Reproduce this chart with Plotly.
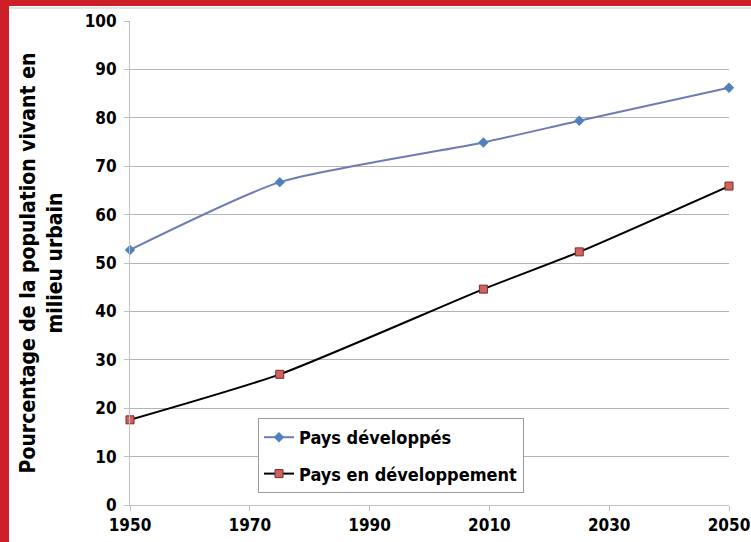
import plotly.graph_objects as go

years_dev = [1950, 1975, 2009, 2025, 2050]
dev = [52.7, 66.7, 74.9, 79.4, 86.2]
years_dvp = [1950, 1975, 2009, 2025, 2050]
dvp = [17.6, 27.0, 44.6, 52.3, 65.9]
x_ticks = [1950, 1970, 1990, 2010, 2030, 2050]
y_ticks = list(range(0, 101, 10))

FONT = "DejaVu Sans Condensed, Roboto, sans-serif"

fig = go.Figure()
fig.add_trace(go.Scatter(
    x=years_dev, y=dev, name="Pays développés", mode="lines+markers", legendgroup="a",
    line=dict(color="#6e7bb4", width=2, shape="spline", smoothing=0.6),
    marker=dict(symbol="diamond", size=8, color="#4f81bd"),
    cliponaxis=False))
fig.add_trace(go.Scatter(
    x=years_dvp, y=dvp, name="Pays en développement", mode="lines+markers", legendgroup="b",
    line=dict(color="#000000", width=2, shape="spline", smoothing=0.6),
    marker=dict(symbol="square", size=8, color="#d0625f", line=dict(color="#7a2a28", width=1)),
    cliponaxis=False))

def px_x(p):
    return (p - 130) / 599.0

def px_y(p):
    return (505 - p) / 484.0

shapes = [
    dict(type="rect", xref="paper", yref="paper", x0=px_x(0), x1=px_x(9), y0=px_y(542), y1=px_y(0),
         fillcolor="#cc1f27", line=dict(width=0), layer="below"),
    dict(type="rect", xref="paper", yref="paper", x0=px_x(0), x1=px_x(751), y0=px_y(6), y1=px_y(0),
         fillcolor="#cc1f27", line=dict(width=0), layer="below"),
    dict(type="line", xref="paper", yref="paper", x0=px_x(9), x1=px_x(751), y0=px_y(8), y1=px_y(8),
         line=dict(color="#c8c8c8", width=1)),
]

fig.update_layout(
    width=751, height=542,
    margin=dict(l=130, r=22, t=21, b=37, autoexpand=False),
    paper_bgcolor="white", plot_bgcolor="white",
    font=dict(family=FONT, size=17, color="black"),
    shapes=shapes,
    showlegend=True,
    legend=dict(x=px_x(258), y=px_y(418), xanchor="left", yanchor="top",
                bordercolor="#9a9a9a", borderwidth=1, bgcolor="white",
                font=dict(family=FONT, size=18, color="black", weight="bold"),
                tracegroupgap=10, itemwidth=30),
    xaxis=dict(range=[1950, 2050], tickvals=x_ticks, showgrid=False, automargin=False,
               showline=True, linecolor="#bfbfbf", linewidth=1,
               ticks="outside", ticklen=5, tickcolor="#bfbfbf",
               tickfont=dict(family=FONT, size=17, color="black", weight="bold"),
               zeroline=False, fixedrange=True),
    yaxis=dict(range=[0, 100], tickvals=y_ticks, showgrid=True, gridcolor="#b4b4b4", gridwidth=1,
               showline=True, linecolor="#bfbfbf", linewidth=1, automargin=False,
               ticks="outside", ticklen=5, tickcolor="#bfbfbf", ticklabelstandoff=4,
               tickfont=dict(family=FONT, size=17, color="black", weight="bold"),
               zeroline=False,
               title=dict(text="Pourcentage de la population vivant en<br>milieu urbain",
                          font=dict(family=FONT, size=21, color="black", weight="bold"),
                          standoff=16)),
)

fig.write_html("out.html", config={"displayModeBar": False},
               post_script="document.body.style.margin='0px';document.body.style.overflow='hidden';")
